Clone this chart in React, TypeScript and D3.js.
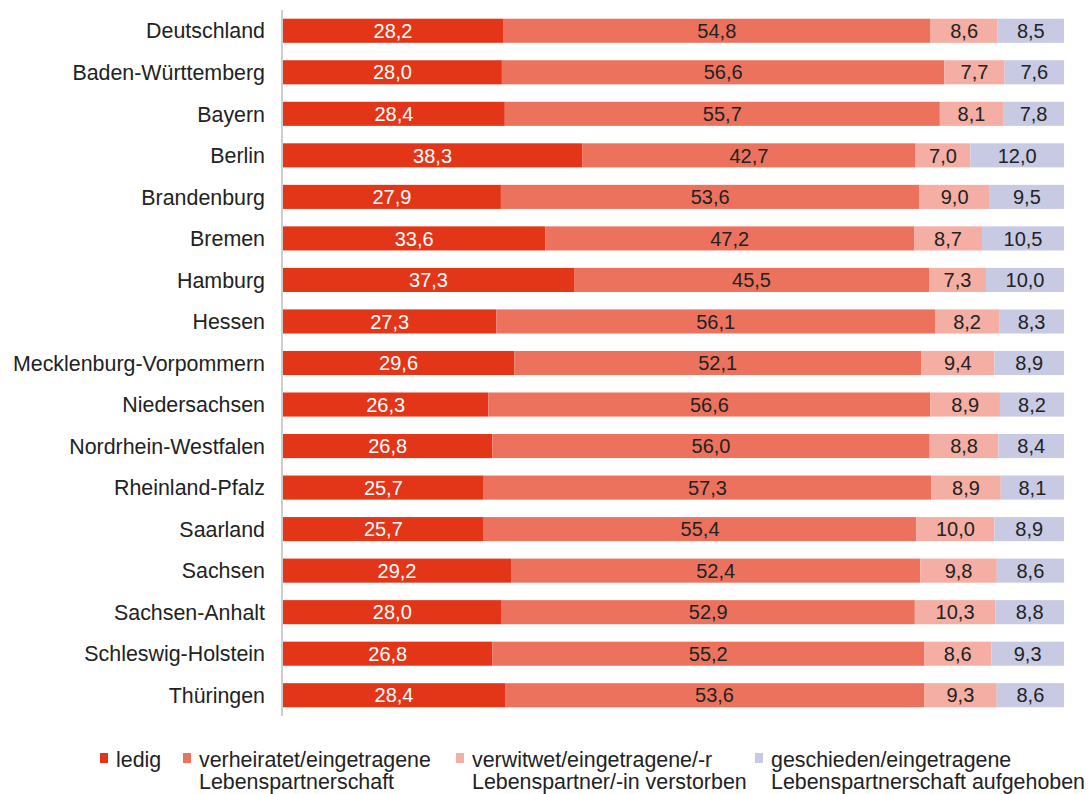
import { useEffect, useRef } from 'react';
import * as d3 from 'd3';

const states = [
  'Deutschland', 'Baden-Württemberg', 'Bayern', 'Berlin', 'Brandenburg', 'Bremen',
  'Hamburg', 'Hessen', 'Mecklenburg-Vorpommern', 'Niedersachsen', 'Nordrhein-Westfalen',
  'Rheinland-Pfalz', 'Saarland', 'Sachsen', 'Sachsen-Anhalt', 'Schleswig-Holstein', 'Thüringen',
];

const ledig = [28.2, 28.0, 28.4, 38.3, 27.9, 33.6, 37.3, 27.3, 29.6, 26.3, 26.8, 25.7, 25.7, 29.2, 28.0, 26.8, 28.4];
const verheiratet = [54.8, 56.6, 55.7, 42.7, 53.6, 47.2, 45.5, 56.1, 52.1, 56.6, 56.0, 57.3, 55.4, 52.4, 52.9, 55.2, 53.6];
const verwitwet = [8.6, 7.7, 8.1, 7.0, 9.0, 8.7, 7.3, 8.2, 9.4, 8.9, 8.8, 8.9, 10.0, 9.8, 10.3, 8.6, 9.3];
const geschieden = [8.5, 7.6, 7.8, 12.0, 9.5, 10.5, 10.0, 8.3, 8.9, 8.2, 8.4, 8.1, 8.9, 8.6, 8.8, 9.3, 8.6];

const seriesKeys = ['ledig', 'verheiratet', 'verwitwet', 'geschieden'];
const legendLabels = [
  ['ledig'],
  ['verheiratet/eingetragene', 'Lebenspartnerschaft'],
  ['verwitwet/eingetragene/-r', 'Lebenspartner/-in verstorben'],
  ['geschieden/eingetragene', 'Lebenspartnerschaft aufgehoben'],
];
const colors = ['#e33619', '#ec725e', '#f4aea3', '#c8cae4'];
const textColors = ['#ffffff', '#222222', '#222222', '#222222'];

export default function App() {
  const svgRef = useRef<SVGSVGElement | null>(null);

  useEffect(() => {
    if (!svgRef.current) return;
    const font = '"Liberation Sans", Arial, sans-serif';

    const svg = d3.select(svgRef.current);
    svg.selectAll('*').remove();

    const rows = states.map((s, i) => {
      const vals = [ledig[i], verheiratet[i], verwitwet[i], geschieden[i]];
      return { state: s, vals, sum: d3.sum(vals) };
    });

    const x = d3.scaleLinear().domain([0, 100]).range([283, 1064]);
    const y = d3.scaleBand<string>()
      .domain(states)
      .range([10, 716])
      .paddingInner(0.42)
      .paddingOuter(0.21);

    // stacked bars (each row scaled to 100 %)
    rows.forEach((r) => {
      let acc = 0;
      r.vals.forEach((v, k) => {
        const x0 = x((acc / r.sum) * 100);
        const x1 = x(((acc + v) / r.sum) * 100);
        acc += v;
        svg.append('rect')
          .attr('x', x0)
          .attr('y', y(r.state)!)
          .attr('width', x1 - x0)
          .attr('height', y.bandwidth())
          .attr('fill', colors[k]);
        svg.append('text')
          .attr('x', (x0 + x1) / 2)
          .attr('y', y(r.state)! + y.bandwidth() / 2)
          .attr('dy', '0.36em')
          .attr('text-anchor', 'middle')
          .attr('font-family', font)
          .attr('font-size', 20)
          .attr('fill', textColors[k])
          .text(d3.format('.1f')(v).replace('.', ','));
      });
    });

    // category labels
    svg.selectAll('.cat')
      .data(states)
      .enter()
      .append('text')
      .attr('class', 'cat')
      .attr('x', 265)
      .attr('y', (d) => y(d)! + y.bandwidth() / 2)
      .attr('dy', '0.36em')
      .attr('text-anchor', 'end')
      .attr('font-family', font)
      .attr('font-size', 21.4)
      .attr('fill', '#222')
      .text((d) => d);

    // axis line
    svg.append('line')
      .attr('x1', 282).attr('x2', 282)
      .attr('y1', 10).attr('y2', 716)
      .attr('stroke', '#bdbdbd')
      .attr('stroke-width', 1.5);

    // legend
    const legendX = [100, 183, 456, 755];
    seriesKeys.forEach((_, k) => {
      svg.append('rect')
        .attr('x', legendX[k])
        .attr('y', 753)
        .attr('width', 8)
        .attr('height', 10)
        .attr('fill', colors[k]);
      legendLabels[k].forEach((line, j) => {
        svg.append('text')
          .attr('x', legendX[k] + 16)
          .attr('y', 767 + j * 22)
          .attr('font-family', font)
          .attr('font-size', 21.4)
          .attr('fill', '#222')
          .text(line);
      });
    });
  }, []);

  return (
    <svg
      ref={svgRef}
      width={1088}
      height={794}
      viewBox="0 0 1088 794"
      style={{ position: 'absolute', left: 0, top: 0, background: '#fff' }}
    />
  );
}
